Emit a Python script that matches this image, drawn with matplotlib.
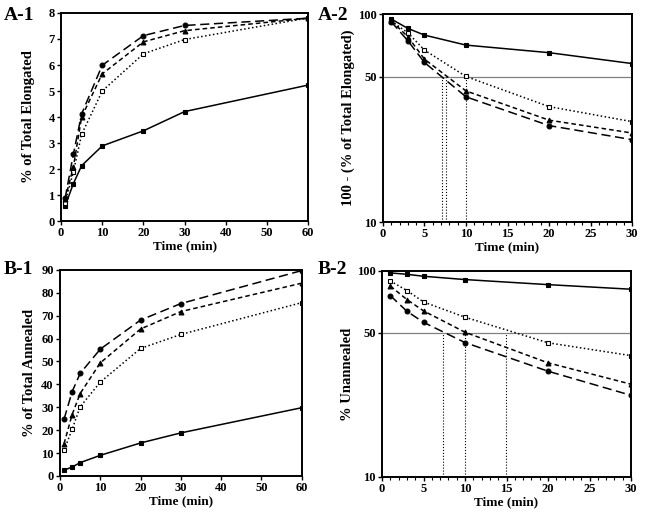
import matplotlib.pyplot as plt
from matplotlib import rcParams
from matplotlib.ticker import MultipleLocator, FixedLocator, NullLocator

rcParams['font.family'] = 'serif'
rcParams['font.serif'] = ['Liberation Serif']
rcParams['font.weight'] = 'bold'
rcParams['axes.labelweight'] = 'bold'

# === Data ===
time = [1, 3, 5, 10, 20, 30, 60]
time_log = [1, 3, 5, 10, 20, 30]

# A-1: % of total elongated
a1_fsq = [0.58, 1.44, 2.13, 2.89, 3.47, 4.21, 5.23]
a1_osq = [0.70, 1.89, 3.33, 5.00, 6.43, 6.98, 7.81]
a1_tri = [0.85, 2.08, 4.00, 5.66, 6.89, 7.32, 7.80]
a1_cir = [0.88, 2.57, 4.12, 5.99, 7.13, 7.52, 7.80]

# A-2: 100 - (% of total elongated), normalised
a2_fsq = [94.6, 85.3, 79.2, 70.9, 65.2, 57.8]
a2_osq = [92.5, 81.3, 67.1, 50.1, 35.9, 30.4]
a2_tri = [92.8, 77.8, 60.7, 42.7, 30.9, 26.8]
a2_cir = [91.8, 74.4, 58.5, 40.0, 29.1, 24.9]
a2_half = [7.1, 7.6, 10.0]

# B-1: % of total annealed
b1_fsq = [2.5, 3.9, 5.8, 9.0, 14.4, 18.8, 29.8]
b1_osq = [11.2, 20.4, 30.2, 41.0, 55.7, 61.8, 75.7]
b1_tri = [14.1, 26.8, 36.0, 49.4, 64.2, 71.8, 84.2]
b1_cir = [24.8, 36.8, 44.8, 55.4, 68.1, 75.3, 89.7]

# B-2: % unannealed
b2_fsq = [97.8, 96.3, 94.2, 90.8, 85.8, 81.5]
b2_osq = [89.4, 80.3, 70.7, 59.6, 44.8, 38.8]
b2_tri = [84.5, 72.6, 64.0, 50.4, 35.8, 28.2]
b2_cir = [75.9, 63.7, 56.3, 44.9, 32.6, 24.9]
b2_half = [7.3, 10.0, 14.9]

# series styles: (marker, facecolor, dashes)
styles = [
    ('s', 'black', None),        # filled squares, solid
    ('s', 'white', (1, 1.6)),    # open squares, dotted
    ('^', 'black', (3, 2)),      # triangles, short dash
    ('o', 'black', (6, 3)),      # circles, long dash
]


def draw_series(ax, x, series):
    for y, (mk, fc, dash) in zip(series, styles):
        line, = ax.plot(x, y, color='black', linewidth=1.1, marker=mk,
                        markersize=3.5, markerfacecolor=fc,
                        markeredgecolor='black', markeredgewidth=0.8)
        if dash is not None:
            line.set_dashes(dash)


def style_axes(ax):
    for sp in ax.spines.values():
        sp.set_linewidth(1.4)
    ax.tick_params(axis='both', which='major', direction='out', length=3,
                   width=1.0, labelsize=9, pad=1.5)
    ax.tick_params(axis='both', which='minor', direction='out', length=2,
                   width=0.8)
    ax.set_xlabel('Time (min)', fontsize=9.5, labelpad=1)
    for lab in ax.get_xticklabels() + ax.get_yticklabels():
        lab.set_fontweight('bold')


fig = plt.figure(figsize=(6.49, 5.19), dpi=100)

# --- A-1 ---
ax1 = fig.add_axes([0.094, 0.574, 0.381, 0.401])
draw_series(ax1, time, [a1_fsq, a1_osq, a1_tri, a1_cir])
ax1.set_xlim(0, 60)
ax1.set_ylim(0, 8)
ax1.xaxis.set_major_locator(MultipleLocator(10))
ax1.yaxis.set_major_locator(MultipleLocator(1))
ax1.set_ylabel('% of Total Elongated', fontsize=10.5, labelpad=10)
style_axes(ax1)


def log_panel(ax, series, halves, ylabel):
    ax.set_yscale('log')
    ax.axhline(50, color='gray', linewidth=0.9, zorder=1)
    for h in halves:
        ax.plot([h, h], [10, 50], color='black', linewidth=0.8,
                linestyle=':', zorder=1)
    draw_series(ax, time_log, series)
    ax.set_xlim(0, 30)
    ax.set_ylim(10, 100)
    ax.yaxis.set_major_locator(FixedLocator([10, 50, 100]))
    ax.yaxis.set_minor_locator(NullLocator())
    ax.set_yticklabels(['10', '50', '100'])
    ax.xaxis.set_major_locator(MultipleLocator(5))
    ax.xaxis.set_minor_locator(MultipleLocator(1))
    ax.set_ylabel(ylabel, fontsize=10.5, labelpad=2)
    style_axes(ax)


# --- A-2 ---
ax2 = fig.add_axes([0.590, 0.572, 0.384, 0.401])
log_panel(ax2, [a2_fsq, a2_osq, a2_tri, a2_cir], a2_half,
          '100 - (% of Total Elongated)')

# --- B-1 ---
ax3 = fig.add_axes([0.0925, 0.083, 0.3725, 0.397])
draw_series(ax3, time, [b1_fsq, b1_osq, b1_tri, b1_cir])
ax3.set_xlim(0, 60)
ax3.set_ylim(0, 90)
ax3.xaxis.set_major_locator(MultipleLocator(10))
ax3.yaxis.set_major_locator(MultipleLocator(10))
ax3.set_ylabel('% of Total Annealed', fontsize=10.5, labelpad=4)
style_axes(ax3)

# --- B-2 ---
ax4 = fig.add_axes([0.5886, 0.081, 0.3837, 0.397])
log_panel(ax4, [b2_fsq, b2_osq, b2_tri, b2_cir], b2_half, '% Unannealed')

# panel labels
for txt, x, y in [('A-1', 0.006, 0.971), ('A-2', 0.490, 0.971),
                  ('B-1', 0.006, 0.480), ('B-2', 0.490, 0.481)]:
    fig.text(x, y, txt, fontsize=14, fontweight='bold', va='center')

fig.savefig('out.png', dpi=100)
